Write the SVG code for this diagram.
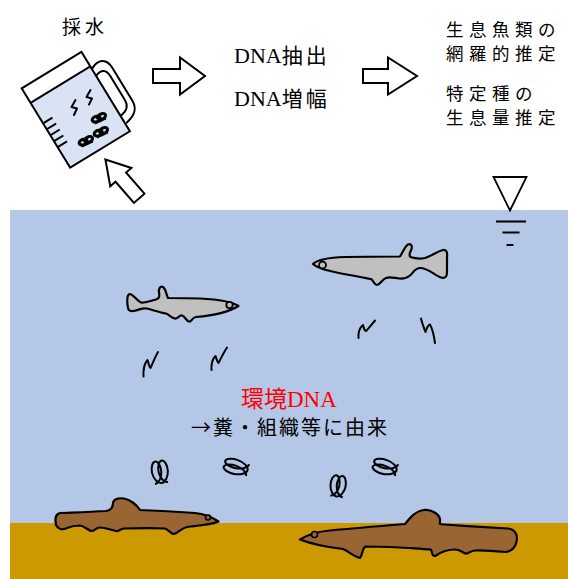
<svg xmlns="http://www.w3.org/2000/svg" xmlns:xlink="http://www.w3.org/1999/xlink" width="568" height="579" viewBox="0 0 568 579">
  <style>
    .jp { font-family: 'Noto Sans CJK JP', 'Noto Sans', sans-serif; }
    .lat { font-family: 'Liberation Serif', serif; }
    .ln { fill: none; stroke: #000; stroke-width: 2; stroke-linecap: round; stroke-linejoin: round; }
    .blk { fill: #fff; stroke: #000; stroke-width: 2; stroke-linejoin: miter; }
    .grey { fill: #c0c0c0; stroke: #000; stroke-width: 2.2; stroke-linejoin: round; }
    .brown { fill: #996633; stroke: #000; stroke-width: 2.2; stroke-linejoin: round; }
  </style>
  <defs>
    <!-- two-turn spring used for DNA fragments -->
    <path id="coil" vector-effect="non-scaling-stroke" d="M0,6 C3.67,6 7.05,3.14 7.57,0 C8.09,-3.14 5.76,-6 3.14,-6 C0.52,-6 -1.81,-3.14 -1.29,0 C-0.77,3.14 2.61,6 6.28,6 C9.95,6 13.33,3.14 13.85,0 C14.37,-3.14 12.04,-6 9.42,-6 C6.80,-6 4.47,-3.14 4.99,0 C5.51,3.14 8.90,6 12.57,6"/>
  </defs>

  <!-- water body and sediment -->
  <g id="water">
    <rect x="10" y="210" width="558" height="313" fill="#b4c7e7"/>
    <rect x="10" y="523" width="558" height="56" fill="#cc9900"/>
  </g>

  <!-- water-surface symbol -->
  <g id="surface">
    <path d="M493.5,177 L526.5,177 L510,210.5 Z" fill="#fff" stroke="#000" stroke-width="1.8" stroke-linejoin="miter"/>
    <line x1="496" y1="221.5" x2="526" y2="221.5" stroke="#000" stroke-width="2"/>
    <line x1="502.5" y1="232.5" x2="519.5" y2="232.5" stroke="#000" stroke-width="2"/>
    <line x1="506.5" y1="245" x2="513.5" y2="245" stroke="#000" stroke-width="2"/>
  </g>

  <!-- sampling jug -->
  <g id="jug">
    <g transform="translate(21.7,88.3) rotate(-31.4)">
      <rect x="0" y="17" width="70" height="76" fill="#dae3f3"/>
      <path class="ln" d="M70,20 C80,15 88,18 88,30 L88,68 C88,78 82,82 72,84"/>
      <path class="ln" d="M70,28 C78,25 82,28 82,36 L82,64 C82,71 78,74 71,75"/>
      <rect x="0" y="0" width="70" height="93" fill="none" stroke="#000" stroke-width="2"/>
      <line x1="0" y1="17" x2="70" y2="17" stroke="#000" stroke-width="2"/>
      <g stroke="#000" stroke-width="2">
        <line x1="0" y1="41" x2="11" y2="41"/>
        <line x1="0" y1="48" x2="11" y2="48"/>
        <line x1="0" y1="55" x2="11" y2="55"/>
        <line x1="0" y1="62" x2="11" y2="62"/>
        <line x1="0" y1="69" x2="11" y2="69"/>
      </g>
    </g>
    <path class="ln" d="M75.5,100 L71.5,107 L77,108.5 L74,115"/>
    <path class="ln" d="M90.5,90 L86.5,97 L92,98.5 L89,104.5"/>
    <g fill="none" stroke="#000" stroke-width="3">
      <use xlink:href="#coil" transform="translate(99,118) rotate(-25) scale(0.95,0.5) translate(-6.3,0)"/>
      <use xlink:href="#coil" transform="translate(101,132) rotate(-25) scale(0.95,0.5) translate(-6.3,0)"/>
      <use xlink:href="#coil" transform="translate(86,141) rotate(-25) scale(0.95,0.5) translate(-6.3,0)"/>
    </g>
  </g>

  <!-- labels -->
  <g id="label-sampling">
    <text class="jp" x="62" y="34" font-size="19" letter-spacing="4">採水</text>
  </g>
  <g id="label-process">
    <text x="234" y="62.5" font-size="22"><tspan class="lat">DNA</tspan><tspan class="jp" font-size="21" letter-spacing="3">抽出</tspan></text>
    <text x="234" y="106" font-size="22"><tspan class="lat">DNA</tspan><tspan class="jp" font-size="21" letter-spacing="3">増幅</tspan></text>
  </g>
  <g id="label-result" class="jp" font-size="17.5" letter-spacing="5.5">
    <text x="446" y="36">生息魚類の</text>
    <text x="446" y="59.5">網羅的推定</text>
    <text x="446" y="99.5">特定種の</text>
    <text x="446" y="123.5">生息量推定</text>
  </g>
  <g id="label-edna">
    <text x="241" y="407" font-size="23" style="fill:#ff0000"><tspan class="jp">環境</tspan><tspan class="lat">DNA</tspan></text>
    <text class="jp" x="191" y="434.5" font-size="20" letter-spacing="2">→糞・組織等に由来</text>
  </g>

  <!-- process arrows -->
  <g id="connectors">
    <path class="blk" d="M153,69 L180,69 L180,57.5 L205,76 L180,94.5 L180,83 L153,83 Z"/>
    <path class="blk" d="M363,69 L388,69 L388,57.5 L417,76 L388,94.5 L388,83 L363,83 Z"/>
    <path class="blk" transform="translate(139.2,198.3) rotate(-131)" d="M0,-7 L28,-7 L28,-14 L51.5,0 L28,14 L28,7 L0,7 Z"/>
  </g>

  <!-- fish -->
  <g id="fish-left">
    <path class="grey" d="M238.5,306 C232,301.5 220,299.5 200,298.5 C186,298 174,298 168,298 C166,294 166,289 163,287 C160,285.5 158.5,289 159,292 C159.5,296 160,298 156,299.5 C150,301 145,303 141,302.5 C137,301 134,295 130,294 C127,294 127,300 127.5,305 C128,310 129,311.5 133,311 C138,310.5 142,307.5 147,308.5 C153,310 160,312.5 166,313.5 C170,315 172,319 176,318.5 C179,318 179,315 182,315.5 C185,316 186,321 189,321.5 C192,322 191,318 196,317 C208,316 227,313 238.5,306 Z"/>
    <circle cx="229.5" cy="305" r="3.2" fill="#c0c0c0" stroke="#000" stroke-width="1.8"/>
  </g>
  <g id="fish-right">
    <path class="grey" d="M313,264 C318,259 330,257.5 345,257 C365,256.5 385,256.5 400,256.5 C403,252 405,246 408,244.5 C411,243 412.5,246 411.5,249 C410.5,252 408,255 410.5,257 C415,258.5 420,259 425,258 C432,256 438,251 443,250 C447,249.5 447.5,253 447,258 L447,272 C447,277 445,278.5 441,277.5 C435,275.5 428,268 420,268 C415,268 414,272 410,275.5 C407,278 403,279 399,278.5 C394,278 390,276.5 386,278 C382,279.5 380,284.5 377,285 C374,285 374,281 371,279 C360,277 340,273.5 326,270 C320,268.5 316,266.5 313,264 Z"/>
    <circle cx="322.5" cy="265" r="3.5" fill="#c0c0c0" stroke="#000" stroke-width="1.8"/>
  </g>
  <g id="loach-left">
    <path class="brown" d="M218.5,521.5 C212,517 205,514 195,513 C175,511.5 155,510.5 140,510 C137,505 130,499.5 124,498.5 C117,497.5 113,500 113,503.5 C112.5,507 112,510 106,511 C90,512 72,512.5 60,513 C55,514 55,520 56,525 C58,529 62,530.5 67,528 C72,526 76,525.5 80,525.5 C85,526 88,531 92,531 C95,531 96,527.5 100,527.5 C106,527.5 110,530 116,531 C119,531.5 120,529 124,528.5 C140,528 155,528 165,528.5 C169,530 171,534 174,534 C178,533 182,527 190,526.5 C200,525.5 212,524.5 218.5,521.5 Z"/>
    <circle cx="208" cy="517.5" r="2.5" fill="#996633" stroke="#000" stroke-width="1.6"/>
  </g>
  <g id="loach-right">
    <path class="brown" d="M300,539.5 C308,534.5 318,531.5 330,530.5 C355,528 380,526 405,524 C410,518 416,510.5 424,510 C432,509.5 439,514 440,519 C441,523 437,524.5 444,524.5 C465,526 490,527.5 508,528.5 C515,529.5 518,534 516.5,542 C515,548 512,551.5 505,552 C495,551 485,550 475,550.5 C470,551 468,554 465.5,553.5 C462,552.5 460,549.5 455,549.5 C446,549.5 441,552 436,555.5 C433,557.5 432,553 431,549.5 C420,549 410,548 400,547.5 C388,547 376,546.5 365,546.5 C362,550 362,556 360,558 C353,556 348,551 343,549 C330,547.5 314,545 300,539.5 Z"/>
    <circle cx="314.5" cy="534.5" r="3" fill="#996633" stroke="#000" stroke-width="1.6"/>
  </g>

  <!-- eDNA fragments in the water -->
  <g id="edna">
    <path class="ln" d="M143.5,376.5 C143,369 145,363 147.5,360 C148.5,362.5 149,367 150.5,368 C152.5,364 155,357 158,352"/>
    <path class="ln" d="M211.5,370 C211,363 213,358.5 215.5,356 C216.5,358.5 217,362 218.5,363 C220.5,359 223.5,353 227,347.5"/>
    <path class="ln" d="M358.5,338 C358,331.5 360,327.5 363,325 C364,328 364,331 366,331 C369,328 372,324 375,320.5"/>
    <path class="ln" d="M421,318.5 C422,323 424,328 425.5,332 C427,327 428,325 430,324.5 C432,328 434,336 435,343"/>
    <g fill="none" stroke="#000" stroke-width="2">
      <use xlink:href="#coil" transform="translate(160,472) rotate(-8) scale(1.05,1.85) translate(-6.3,0)"/>
      <use xlink:href="#coil" transform="translate(236,467) rotate(-75) scale(0.95,2.0) translate(-6.3,0)"/>
      <use xlink:href="#coil" transform="translate(338,486) rotate(8) scale(1.0,1.75) translate(-6.3,0)"/>
      <use xlink:href="#coil" transform="translate(385,467) rotate(-75) scale(0.95,2.0) translate(-6.3,0)"/>
    </g>
  </g>
</svg>
